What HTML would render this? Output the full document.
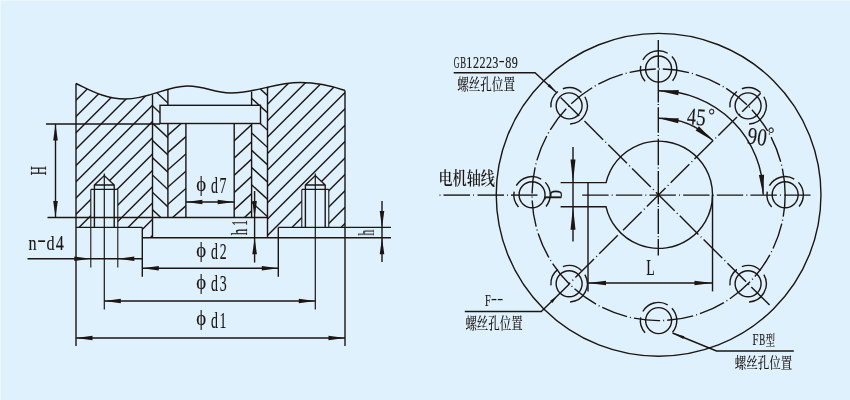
<!DOCTYPE html>
<html lang="zh">
<head>
<meta charset="utf-8">
<title>安装尺寸图</title>
<style>
html,body{margin:0;padding:0;background:#dff1fc;}
body{width:850px;height:400px;overflow:hidden;font-family:"Liberation Serif","Noto Serif CJK SC",serif;}
svg{display:block;}
</style>
</head>
<body>
<svg width="850" height="400" viewBox="0 0 850 400">
<rect x="0" y="0" width="850" height="400" fill="#dff1fc"/>
<rect x="0" y="0" width="850" height="1" fill="#ecf7fd"/>
<rect x="0" y="0" width="1" height="400" fill="#ecf7fd"/>
<defs>
<clipPath id="cwave"><path d="M76,83.5 C 90,90 105,99 125,99 C 150,99 166,86 187.5,86 C 207,86 212,93 231,93 C 255,93 275,82.5 300,82.5 C 318,82.5 335,87 345,90.5 L345,260 L76,260 Z"/></clipPath>
<clipPath id="cLB" clip-path="url(#cwave)"><path clip-rule="evenodd" d="M76,60 L152.5,60 L152.5,237.8 L142.3,237.8 L142.3,227.4 L76,227.4 Z M90.8,227.9 L90.8,189.4 L94.39999999999999,189.4 L94.39999999999999,185 L104.3,176.5 L114.2,185 L114.2,189.4 L117.8,189.4 L117.8,227.9 Z"/></clipPath>
<clipPath id="cRB" clip-path="url(#cwave)"><path clip-rule="evenodd" d="M267.5,60 L345,60 L345,227.4 L278.3,227.4 L278.3,237.8 L267.5,237.8 Z M301.8,227.9 L301.8,189.4 L305.40000000000003,189.4 L305.40000000000003,185 L315.3,176.5 L325.2,185 L325.2,189.4 L328.8,189.4 L328.8,227.9 Z"/></clipPath>
<clipPath id="cSOL" clip-path="url(#cwave)"><path clip-rule="evenodd" d="M152.5,60 L167.9,60 L167.9,217.5 L152.5,217.5 Z M160,105.3 L167.9,105.3 L167.9,123.5 L160,123.5 Z"/></clipPath>
<clipPath id="cSIL"><rect x="167.9" y="123.5" width="18.0" height="94.0"/></clipPath>
<clipPath id="cSIR"><rect x="234.2" y="123.5" width="17.400000000000006" height="94.0"/></clipPath>
<clipPath id="cSOR" clip-path="url(#cwave)"><path clip-rule="evenodd" d="M251.6,60 L267.5,60 L267.5,217.5 L251.6,217.5 Z M251.6,105.3 L260.5,105.3 L260.5,123.5 L251.6,123.5 Z"/></clipPath>
</defs>
<g stroke="#1c1512" fill="none" stroke-linecap="butt">
<g clip-path="url(#cLB)">
<line x1="-189.00" y1="300.00" x2="61.00" y2="50.00" stroke-width="1.4" />
<line x1="-172.70" y1="300.00" x2="77.30" y2="50.00" stroke-width="1.4" />
<line x1="-156.40" y1="300.00" x2="93.60" y2="50.00" stroke-width="1.4" />
<line x1="-140.10" y1="300.00" x2="109.90" y2="50.00" stroke-width="1.4" />
<line x1="-123.80" y1="300.00" x2="126.20" y2="50.00" stroke-width="1.4" />
<line x1="-107.50" y1="300.00" x2="142.50" y2="50.00" stroke-width="1.4" />
<line x1="-91.20" y1="300.00" x2="158.80" y2="50.00" stroke-width="1.4" />
<line x1="-74.90" y1="300.00" x2="175.10" y2="50.00" stroke-width="1.4" />
<line x1="-58.60" y1="300.00" x2="191.40" y2="50.00" stroke-width="1.4" />
<line x1="-42.30" y1="300.00" x2="207.70" y2="50.00" stroke-width="1.4" />
<line x1="-26.00" y1="300.00" x2="224.00" y2="50.00" stroke-width="1.4" />
<line x1="-9.70" y1="300.00" x2="240.30" y2="50.00" stroke-width="1.4" />
<line x1="6.60" y1="300.00" x2="256.60" y2="50.00" stroke-width="1.4" />
<line x1="22.90" y1="300.00" x2="272.90" y2="50.00" stroke-width="1.4" />
<line x1="39.20" y1="300.00" x2="289.20" y2="50.00" stroke-width="1.4" />
<line x1="55.50" y1="300.00" x2="305.50" y2="50.00" stroke-width="1.4" />
<line x1="71.80" y1="300.00" x2="321.80" y2="50.00" stroke-width="1.4" />
<line x1="88.10" y1="300.00" x2="338.10" y2="50.00" stroke-width="1.4" />
<line x1="104.40" y1="300.00" x2="354.40" y2="50.00" stroke-width="1.4" />
</g>
<g clip-path="url(#cRB)">
<line x1="6.20" y1="300.00" x2="256.20" y2="50.00" stroke-width="1.4" />
<line x1="22.60" y1="300.00" x2="272.60" y2="50.00" stroke-width="1.4" />
<line x1="39.00" y1="300.00" x2="289.00" y2="50.00" stroke-width="1.4" />
<line x1="55.40" y1="300.00" x2="305.40" y2="50.00" stroke-width="1.4" />
<line x1="71.80" y1="300.00" x2="321.80" y2="50.00" stroke-width="1.4" />
<line x1="88.20" y1="300.00" x2="338.20" y2="50.00" stroke-width="1.4" />
<line x1="104.60" y1="300.00" x2="354.60" y2="50.00" stroke-width="1.4" />
<line x1="121.00" y1="300.00" x2="371.00" y2="50.00" stroke-width="1.4" />
<line x1="137.40" y1="300.00" x2="387.40" y2="50.00" stroke-width="1.4" />
<line x1="153.80" y1="300.00" x2="403.80" y2="50.00" stroke-width="1.4" />
<line x1="170.20" y1="300.00" x2="420.20" y2="50.00" stroke-width="1.4" />
<line x1="186.60" y1="300.00" x2="436.60" y2="50.00" stroke-width="1.4" />
<line x1="203.00" y1="300.00" x2="453.00" y2="50.00" stroke-width="1.4" />
<line x1="219.40" y1="300.00" x2="469.40" y2="50.00" stroke-width="1.4" />
<line x1="235.80" y1="300.00" x2="485.80" y2="50.00" stroke-width="1.4" />
<line x1="252.20" y1="300.00" x2="502.20" y2="50.00" stroke-width="1.4" />
<line x1="268.60" y1="300.00" x2="518.60" y2="50.00" stroke-width="1.4" />
<line x1="285.00" y1="300.00" x2="535.00" y2="50.00" stroke-width="1.4" />
<line x1="301.40" y1="300.00" x2="551.40" y2="50.00" stroke-width="1.4" />
<line x1="317.80" y1="300.00" x2="567.80" y2="50.00" stroke-width="1.4" />
</g>
<g clip-path="url(#cSOL)">
<line x1="107.75" y1="-126.50" x2="227.75" y2="-13.70" stroke-width="1.4" />
<line x1="107.75" y1="-109.20" x2="227.75" y2="3.60" stroke-width="1.4" />
<line x1="107.75" y1="-91.90" x2="227.75" y2="20.90" stroke-width="1.4" />
<line x1="107.75" y1="-74.60" x2="227.75" y2="38.20" stroke-width="1.4" />
<line x1="107.75" y1="-57.30" x2="227.75" y2="55.50" stroke-width="1.4" />
<line x1="107.75" y1="-40.00" x2="227.75" y2="72.80" stroke-width="1.4" />
<line x1="107.75" y1="-22.70" x2="227.75" y2="90.10" stroke-width="1.4" />
<line x1="107.75" y1="-5.40" x2="227.75" y2="107.40" stroke-width="1.4" />
<line x1="107.75" y1="11.90" x2="227.75" y2="124.70" stroke-width="1.4" />
<line x1="107.75" y1="29.20" x2="227.75" y2="142.00" stroke-width="1.4" />
<line x1="107.75" y1="46.50" x2="227.75" y2="159.30" stroke-width="1.4" />
<line x1="107.75" y1="63.80" x2="227.75" y2="176.60" stroke-width="1.4" />
<line x1="107.75" y1="81.10" x2="227.75" y2="193.90" stroke-width="1.4" />
<line x1="107.75" y1="98.40" x2="227.75" y2="211.20" stroke-width="1.4" />
<line x1="107.75" y1="115.70" x2="227.75" y2="228.50" stroke-width="1.4" />
<line x1="107.75" y1="133.00" x2="227.75" y2="245.80" stroke-width="1.4" />
<line x1="107.75" y1="150.30" x2="227.75" y2="263.10" stroke-width="1.4" />
<line x1="107.75" y1="167.60" x2="227.75" y2="280.40" stroke-width="1.4" />
<line x1="107.75" y1="184.90" x2="227.75" y2="297.70" stroke-width="1.4" />
<line x1="107.75" y1="202.20" x2="227.75" y2="315.00" stroke-width="1.4" />
<line x1="107.75" y1="219.50" x2="227.75" y2="332.30" stroke-width="1.4" />
<line x1="107.75" y1="236.80" x2="227.75" y2="349.60" stroke-width="1.4" />
<line x1="107.75" y1="254.10" x2="227.75" y2="366.90" stroke-width="1.4" />
<line x1="107.75" y1="271.40" x2="227.75" y2="384.20" stroke-width="1.4" />
<line x1="107.75" y1="288.70" x2="227.75" y2="401.50" stroke-width="1.4" />
</g>
<g clip-path="url(#cSIL)">
<line x1="107.75" y1="-19.50" x2="227.75" y2="-125.10" stroke-width="1.4" />
<line x1="107.75" y1="-2.20" x2="227.75" y2="-107.80" stroke-width="1.4" />
<line x1="107.75" y1="15.10" x2="227.75" y2="-90.50" stroke-width="1.4" />
<line x1="107.75" y1="32.40" x2="227.75" y2="-73.20" stroke-width="1.4" />
<line x1="107.75" y1="49.70" x2="227.75" y2="-55.90" stroke-width="1.4" />
<line x1="107.75" y1="67.00" x2="227.75" y2="-38.60" stroke-width="1.4" />
<line x1="107.75" y1="84.30" x2="227.75" y2="-21.30" stroke-width="1.4" />
<line x1="107.75" y1="101.60" x2="227.75" y2="-4.00" stroke-width="1.4" />
<line x1="107.75" y1="118.90" x2="227.75" y2="13.30" stroke-width="1.4" />
<line x1="107.75" y1="136.20" x2="227.75" y2="30.60" stroke-width="1.4" />
<line x1="107.75" y1="153.50" x2="227.75" y2="47.90" stroke-width="1.4" />
<line x1="107.75" y1="170.80" x2="227.75" y2="65.20" stroke-width="1.4" />
<line x1="107.75" y1="188.10" x2="227.75" y2="82.50" stroke-width="1.4" />
<line x1="107.75" y1="205.40" x2="227.75" y2="99.80" stroke-width="1.4" />
<line x1="107.75" y1="222.70" x2="227.75" y2="117.10" stroke-width="1.4" />
<line x1="107.75" y1="240.00" x2="227.75" y2="134.40" stroke-width="1.4" />
<line x1="107.75" y1="257.30" x2="227.75" y2="151.70" stroke-width="1.4" />
<line x1="107.75" y1="274.60" x2="227.75" y2="169.00" stroke-width="1.4" />
<line x1="107.75" y1="291.90" x2="227.75" y2="186.30" stroke-width="1.4" />
<line x1="107.75" y1="309.20" x2="227.75" y2="203.60" stroke-width="1.4" />
<line x1="107.75" y1="326.50" x2="227.75" y2="220.90" stroke-width="1.4" />
<line x1="107.75" y1="343.80" x2="227.75" y2="238.20" stroke-width="1.4" />
<line x1="107.75" y1="361.10" x2="227.75" y2="255.50" stroke-width="1.4" />
<line x1="107.75" y1="378.40" x2="227.75" y2="272.80" stroke-width="1.4" />
<line x1="107.75" y1="395.70" x2="227.75" y2="290.10" stroke-width="1.4" />
</g>
<g clip-path="url(#cSIR)">
<line x1="191.75" y1="-26.70" x2="311.75" y2="-138.30" stroke-width="1.4" />
<line x1="191.75" y1="-9.45" x2="311.75" y2="-121.05" stroke-width="1.4" />
<line x1="191.75" y1="7.80" x2="311.75" y2="-103.80" stroke-width="1.4" />
<line x1="191.75" y1="25.05" x2="311.75" y2="-86.55" stroke-width="1.4" />
<line x1="191.75" y1="42.30" x2="311.75" y2="-69.30" stroke-width="1.4" />
<line x1="191.75" y1="59.55" x2="311.75" y2="-52.05" stroke-width="1.4" />
<line x1="191.75" y1="76.80" x2="311.75" y2="-34.80" stroke-width="1.4" />
<line x1="191.75" y1="94.05" x2="311.75" y2="-17.55" stroke-width="1.4" />
<line x1="191.75" y1="111.30" x2="311.75" y2="-0.30" stroke-width="1.4" />
<line x1="191.75" y1="128.55" x2="311.75" y2="16.95" stroke-width="1.4" />
<line x1="191.75" y1="145.80" x2="311.75" y2="34.20" stroke-width="1.4" />
<line x1="191.75" y1="163.05" x2="311.75" y2="51.45" stroke-width="1.4" />
<line x1="191.75" y1="180.30" x2="311.75" y2="68.70" stroke-width="1.4" />
<line x1="191.75" y1="197.55" x2="311.75" y2="85.95" stroke-width="1.4" />
<line x1="191.75" y1="214.80" x2="311.75" y2="103.20" stroke-width="1.4" />
<line x1="191.75" y1="232.05" x2="311.75" y2="120.45" stroke-width="1.4" />
<line x1="191.75" y1="249.30" x2="311.75" y2="137.70" stroke-width="1.4" />
<line x1="191.75" y1="266.55" x2="311.75" y2="154.95" stroke-width="1.4" />
<line x1="191.75" y1="283.80" x2="311.75" y2="172.20" stroke-width="1.4" />
<line x1="191.75" y1="301.05" x2="311.75" y2="189.45" stroke-width="1.4" />
<line x1="191.75" y1="318.30" x2="311.75" y2="206.70" stroke-width="1.4" />
<line x1="191.75" y1="335.55" x2="311.75" y2="223.95" stroke-width="1.4" />
<line x1="191.75" y1="352.80" x2="311.75" y2="241.20" stroke-width="1.4" />
<line x1="191.75" y1="370.05" x2="311.75" y2="258.45" stroke-width="1.4" />
<line x1="191.75" y1="387.30" x2="311.75" y2="275.70" stroke-width="1.4" />
</g>
<g clip-path="url(#cSOR)">
<line x1="191.75" y1="-129.10" x2="311.75" y2="-19.90" stroke-width="1.4" />
<line x1="191.75" y1="-111.80" x2="311.75" y2="-2.60" stroke-width="1.4" />
<line x1="191.75" y1="-94.50" x2="311.75" y2="14.70" stroke-width="1.4" />
<line x1="191.75" y1="-77.20" x2="311.75" y2="32.00" stroke-width="1.4" />
<line x1="191.75" y1="-59.90" x2="311.75" y2="49.30" stroke-width="1.4" />
<line x1="191.75" y1="-42.60" x2="311.75" y2="66.60" stroke-width="1.4" />
<line x1="191.75" y1="-25.30" x2="311.75" y2="83.90" stroke-width="1.4" />
<line x1="191.75" y1="-8.00" x2="311.75" y2="101.20" stroke-width="1.4" />
<line x1="191.75" y1="9.30" x2="311.75" y2="118.50" stroke-width="1.4" />
<line x1="191.75" y1="26.60" x2="311.75" y2="135.80" stroke-width="1.4" />
<line x1="191.75" y1="43.90" x2="311.75" y2="153.10" stroke-width="1.4" />
<line x1="191.75" y1="61.20" x2="311.75" y2="170.40" stroke-width="1.4" />
<line x1="191.75" y1="78.50" x2="311.75" y2="187.70" stroke-width="1.4" />
<line x1="191.75" y1="95.80" x2="311.75" y2="205.00" stroke-width="1.4" />
<line x1="191.75" y1="113.10" x2="311.75" y2="222.30" stroke-width="1.4" />
<line x1="191.75" y1="130.40" x2="311.75" y2="239.60" stroke-width="1.4" />
<line x1="191.75" y1="147.70" x2="311.75" y2="256.90" stroke-width="1.4" />
<line x1="191.75" y1="165.00" x2="311.75" y2="274.20" stroke-width="1.4" />
<line x1="191.75" y1="182.30" x2="311.75" y2="291.50" stroke-width="1.4" />
<line x1="191.75" y1="199.60" x2="311.75" y2="308.80" stroke-width="1.4" />
<line x1="191.75" y1="216.90" x2="311.75" y2="326.10" stroke-width="1.4" />
<line x1="191.75" y1="234.20" x2="311.75" y2="343.40" stroke-width="1.4" />
<line x1="191.75" y1="251.50" x2="311.75" y2="360.70" stroke-width="1.4" />
<line x1="191.75" y1="268.80" x2="311.75" y2="378.00" stroke-width="1.4" />
<line x1="191.75" y1="286.10" x2="311.75" y2="395.30" stroke-width="1.4" />
</g>
<path d="M76,83.5 C 90,90 105,99 125,99 C 150,99 166,86 187.5,86 C 207,86 212,93 231,93 C 255,93 275,82.5 300,82.5 C 318,82.5 335,87 345,90.5" stroke-width="1.4"/>
<line x1="76.00" y1="83.50" x2="76.00" y2="346.00" stroke-width="1.4" />
<line x1="345.00" y1="90.50" x2="345.00" y2="346.00" stroke-width="1.4" />
<line x1="152.50" y1="94.70" x2="152.50" y2="237.80" stroke-width="1.4" />
<line x1="267.50" y1="86.80" x2="267.50" y2="237.80" stroke-width="1.4" />
<line x1="167.90" y1="89.80" x2="167.90" y2="105.30" stroke-width="1.4" />
<line x1="167.90" y1="123.50" x2="167.90" y2="217.50" stroke-width="1.4" />
<line x1="251.60" y1="91.50" x2="251.60" y2="105.30" stroke-width="1.4" />
<line x1="251.60" y1="123.50" x2="251.60" y2="217.50" stroke-width="1.4" />
<line x1="185.90" y1="123.50" x2="185.90" y2="217.50" stroke-width="1.4" />
<line x1="234.20" y1="123.50" x2="234.20" y2="217.50" stroke-width="1.4" />
<rect x="160" y="105.3" width="100.5" height="18.200000000000003" stroke-width="1.4"/>
<line x1="46.00" y1="124.00" x2="160.00" y2="124.00" stroke-width="1.4" />
<line x1="47.50" y1="217.50" x2="267.50" y2="217.50" stroke-width="1.4" />
<line x1="76.00" y1="227.40" x2="142.30" y2="227.40" stroke-width="1.4" />
<line x1="278.30" y1="227.40" x2="391.00" y2="227.40" stroke-width="1.4" />
<line x1="142.30" y1="237.80" x2="391.00" y2="237.80" stroke-width="1.4" />
<line x1="142.30" y1="227.40" x2="142.30" y2="276.80" stroke-width="1.4" />
<line x1="278.30" y1="227.40" x2="278.30" y2="276.80" stroke-width="1.4" />
<path d="M94.39999999999999,227.4 L94.39999999999999,185 L104.3,175.6 L114.2,185 L114.2,227.4 M94.39999999999999,185 L114.2,185 M90.8,189.4 L117.8,189.4" stroke-width="1.4"/>
<line x1="90.80" y1="189.40" x2="90.80" y2="267.50" stroke-width="1.1" />
<line x1="117.80" y1="189.40" x2="117.80" y2="267.50" stroke-width="1.1" />
<line x1="104.30" y1="173.50" x2="104.30" y2="309.50" stroke-width="1.2" />
<path d="M305.40000000000003,227.4 L305.40000000000003,185 L315.3,175.6 L325.2,185 L325.2,227.4 M305.40000000000003,185 L325.2,185 M301.8,189.4 L328.8,189.4" stroke-width="1.4"/>
<line x1="301.80" y1="189.40" x2="301.80" y2="227.40" stroke-width="1.1" />
<line x1="328.80" y1="189.40" x2="328.80" y2="227.40" stroke-width="1.1" />
<line x1="315.30" y1="173.50" x2="315.30" y2="309.50" stroke-width="1.2" />
<line x1="55.50" y1="124.00" x2="55.50" y2="217.50" stroke-width="1.4" />
<polygon points="55.50,124.00 57.80,140.50 53.20,140.50" fill="#1c1512" stroke="none"/>
<polygon points="55.50,217.50 53.20,201.00 57.80,201.00" fill="#1c1512" stroke="none"/>
<line x1="185.90" y1="202.00" x2="234.20" y2="202.00" stroke-width="1.4" />
<polygon points="185.90,202.00 202.40,199.70 202.40,204.30" fill="#1c1512" stroke="none"/>
<polygon points="234.20,202.00 217.70,204.30 217.70,199.70" fill="#1c1512" stroke="none"/>
<line x1="254.60" y1="191.00" x2="254.60" y2="262.50" stroke-width="1.4" />
<polygon points="254.60,217.50 252.30,201.00 256.90,201.00" fill="#1c1512" stroke="none"/>
<polygon points="254.60,237.80 256.90,254.30 252.30,254.30" fill="#1c1512" stroke="none"/>
<line x1="382.00" y1="201.00" x2="382.00" y2="262.00" stroke-width="1.4" />
<polygon points="382.00,227.40 379.70,210.90 384.30,210.90" fill="#1c1512" stroke="none"/>
<polygon points="382.00,237.80 384.30,254.30 379.70,254.30" fill="#1c1512" stroke="none"/>
<line x1="27.50" y1="258.80" x2="142.30" y2="258.80" stroke-width="1.4" />
<polygon points="90.80,258.80 74.30,261.10 74.30,256.50" fill="#1c1512" stroke="none"/>
<polygon points="117.80,258.80 134.30,256.50 134.30,261.10" fill="#1c1512" stroke="none"/>
<line x1="142.30" y1="268.20" x2="278.30" y2="268.20" stroke-width="1.4" />
<polygon points="142.30,268.20 158.80,265.90 158.80,270.50" fill="#1c1512" stroke="none"/>
<polygon points="278.30,268.20 261.80,270.50 261.80,265.90" fill="#1c1512" stroke="none"/>
<line x1="104.30" y1="301.00" x2="315.30" y2="301.00" stroke-width="1.4" />
<polygon points="104.30,301.00 120.80,298.70 120.80,303.30" fill="#1c1512" stroke="none"/>
<polygon points="315.30,301.00 298.80,303.30 298.80,298.70" fill="#1c1512" stroke="none"/>
<line x1="76.00" y1="338.00" x2="345.00" y2="338.00" stroke-width="1.4" />
<polygon points="76.00,338.00 92.50,335.70 92.50,340.30" fill="#1c1512" stroke="none"/>
<polygon points="345.00,338.00 328.50,340.30 328.50,335.70" fill="#1c1512" stroke="none"/>
<ellipse cx="658.6" cy="194.8" rx="162.37" ry="161.4" stroke-width="1.4"/>
<path d="M785.15,194.8 A126.55,125.8 0 1 0 532.05,194.8 A126.55,125.8 0 1 0 785.15,194.8" stroke-width="1.4" stroke-dasharray="26.4 3.05 1 3.05"/>
<path d="M560.6,182.6 L606.09,182.6 A53.92,53.6 0 1 1 606.05,206.8 L560.6,206.8" stroke-width="1.4"/>
<line x1="588.00" y1="182.60" x2="588.00" y2="291.40" stroke-width="1.4" />
<line x1="712.52" y1="194.80" x2="712.52" y2="291.40" stroke-width="1.4" />
<line x1="658.30" y1="40.00" x2="658.30" y2="67.80" stroke-width="1.4" />
<line x1="658.30" y1="70.30" x2="658.30" y2="102.50" stroke-width="1.4" />
<line x1="658.30" y1="107.20" x2="658.30" y2="132.70" stroke-width="1.4" />
<line x1="658.30" y1="138.70" x2="658.30" y2="165.30" stroke-width="1.4" />
<line x1="658.30" y1="171.00" x2="658.30" y2="204.30" stroke-width="1.4" />
<line x1="658.30" y1="208.80" x2="658.30" y2="234.00" stroke-width="1.4" />
<line x1="658.30" y1="239.00" x2="658.30" y2="255.40" stroke-width="1.4" />
<line x1="658.30" y1="103.90" x2="658.30" y2="104.90" stroke-width="1.4" />
<line x1="658.30" y1="135.10" x2="658.30" y2="136.10" stroke-width="1.4" />
<line x1="658.30" y1="167.50" x2="658.30" y2="168.50" stroke-width="1.4" />
<line x1="658.30" y1="206.10" x2="658.30" y2="207.10" stroke-width="1.4" />
<line x1="658.30" y1="236.30" x2="658.30" y2="237.30" stroke-width="1.4" />
<line x1="443.50" y1="195.10" x2="470.00" y2="195.10" stroke-width="1.4" />
<line x1="477.50" y1="195.10" x2="504.00" y2="195.10" stroke-width="1.4" />
<line x1="511.00" y1="195.10" x2="537.50" y2="195.10" stroke-width="1.4" />
<line x1="439.50" y1="195.10" x2="440.50" y2="195.10" stroke-width="1.4" />
<line x1="473.00" y1="195.10" x2="474.00" y2="195.10" stroke-width="1.4" />
<line x1="507.00" y1="195.10" x2="508.00" y2="195.10" stroke-width="1.4" />
<line x1="582.20" y1="195.10" x2="810.50" y2="195.10" stroke-width="1.4" stroke-dasharray="26.4 3.1 1 3.15"/>
<line x1="568.97" y1="283.90" x2="570.18" y2="282.69" stroke-width="1.4" />
<line x1="572.42" y1="280.47" x2="573.13" y2="279.76" stroke-width="1.4" />
<line x1="575.37" y1="277.53" x2="594.01" y2="259.01" stroke-width="1.4" />
<line x1="596.25" y1="256.78" x2="596.96" y2="256.07" stroke-width="1.4" />
<line x1="599.20" y1="253.84" x2="617.84" y2="235.32" stroke-width="1.4" />
<line x1="620.08" y1="233.09" x2="620.79" y2="232.38" stroke-width="1.4" />
<line x1="623.03" y1="230.16" x2="641.67" y2="211.63" stroke-width="1.4" />
<line x1="643.91" y1="209.40" x2="644.62" y2="208.69" stroke-width="1.4" />
<line x1="646.86" y1="206.47" x2="665.50" y2="187.94" stroke-width="1.4" />
<line x1="667.74" y1="185.71" x2="668.45" y2="185.01" stroke-width="1.4" />
<line x1="670.69" y1="182.78" x2="689.33" y2="164.25" stroke-width="1.4" />
<line x1="691.57" y1="162.03" x2="692.28" y2="161.32" stroke-width="1.4" />
<line x1="694.52" y1="159.09" x2="713.16" y2="140.56" stroke-width="1.4" />
<line x1="715.40" y1="138.34" x2="716.11" y2="137.63" stroke-width="1.4" />
<line x1="718.35" y1="135.40" x2="736.99" y2="116.88" stroke-width="1.4" />
<line x1="739.23" y1="114.65" x2="739.94" y2="113.94" stroke-width="1.4" />
<line x1="742.18" y1="111.71" x2="760.68" y2="93.33" stroke-width="1.4" />
<line x1="769.57" y1="305.11" x2="751.29" y2="286.94" stroke-width="1.4" />
<line x1="749.05" y1="284.71" x2="748.34" y2="284.00" stroke-width="1.4" />
<line x1="746.10" y1="281.77" x2="727.46" y2="263.25" stroke-width="1.4" />
<line x1="725.22" y1="261.02" x2="724.51" y2="260.31" stroke-width="1.4" />
<line x1="722.27" y1="258.09" x2="703.63" y2="239.56" stroke-width="1.4" />
<line x1="701.39" y1="237.33" x2="700.68" y2="236.63" stroke-width="1.4" />
<line x1="698.44" y1="234.40" x2="679.80" y2="215.87" stroke-width="1.4" />
<line x1="677.56" y1="213.64" x2="676.85" y2="212.94" stroke-width="1.4" />
<line x1="674.61" y1="210.71" x2="655.97" y2="192.18" stroke-width="1.4" />
<line x1="653.73" y1="189.96" x2="653.02" y2="189.25" stroke-width="1.4" />
<line x1="650.78" y1="187.02" x2="632.14" y2="168.50" stroke-width="1.4" />
<line x1="629.90" y1="166.27" x2="629.19" y2="165.56" stroke-width="1.4" />
<line x1="626.94" y1="163.33" x2="608.31" y2="144.81" stroke-width="1.4" />
<line x1="606.07" y1="142.58" x2="605.36" y2="141.87" stroke-width="1.4" />
<line x1="603.11" y1="139.65" x2="584.48" y2="121.12" stroke-width="1.4" />
<line x1="582.24" y1="118.89" x2="581.53" y2="118.18" stroke-width="1.4" />
<line x1="579.28" y1="115.96" x2="560.65" y2="97.43" stroke-width="1.4" />
<circle cx="785.15" cy="194.80" r="13" stroke-width="1.4"/>
<path d="M767.23,191.64 A18.2,18.2 0 0 0 771.63,206.98" stroke-width="1.4"/>
<path d="M794.25,179.04 A18.2,18.2 0 0 0 769.39,185.70" stroke-width="1.4"/>
<path d="M799.10,206.50 A18.2,18.2 0 0 0 798.47,182.39" stroke-width="1.4"/>
<circle cx="748.09" cy="105.85" r="13" stroke-width="1.4"/>
<path d="M736.88,91.50 A18.2,18.2 0 0 0 729.96,107.43" stroke-width="1.4"/>
<path d="M760.50,92.54 A18.2,18.2 0 0 0 741.86,88.74" stroke-width="1.4"/>
<path d="M749.04,124.02 A18.2,18.2 0 0 0 763.85,96.75" stroke-width="1.4"/>
<circle cx="658.60" cy="69.00" r="13" stroke-width="1.4"/>
<path d="M640.68,65.84 A18.2,18.2 0 0 0 645.07,81.18" stroke-width="1.4"/>
<path d="M667.70,53.24 A18.2,18.2 0 0 0 642.84,59.90" stroke-width="1.4"/>
<path d="M672.54,80.70 A18.2,18.2 0 0 0 671.91,56.59" stroke-width="1.4"/>
<circle cx="569.11" cy="105.85" r="13" stroke-width="1.4"/>
<path d="M557.91,91.50 A18.2,18.2 0 0 0 550.98,107.43" stroke-width="1.4"/>
<path d="M581.52,92.54 A18.2,18.2 0 0 0 562.89,88.74" stroke-width="1.4"/>
<path d="M570.06,124.02 A18.2,18.2 0 0 0 584.87,96.75" stroke-width="1.4"/>
<circle cx="532.05" cy="194.80" r="13" stroke-width="1.4"/>
<path d="M514.12,191.64 A18.2,18.2 0 0 0 518.52,206.98" stroke-width="1.4"/>
<path d="M541.15,179.04 A18.2,18.2 0 0 0 516.28,185.70" stroke-width="1.4"/>
<path d="M545.99,206.50 A18.2,18.2 0 0 0 545.36,182.39" stroke-width="1.4"/>
<circle cx="569.11" cy="283.75" r="13" stroke-width="1.4"/>
<path d="M557.91,269.41 A18.2,18.2 0 0 0 550.98,285.34" stroke-width="1.4"/>
<path d="M581.52,270.44 A18.2,18.2 0 0 0 562.89,266.65" stroke-width="1.4"/>
<path d="M570.06,301.93 A18.2,18.2 0 0 0 584.87,274.65" stroke-width="1.4"/>
<circle cx="658.60" cy="320.60" r="13" stroke-width="1.4"/>
<path d="M640.68,317.44 A18.2,18.2 0 0 0 645.07,332.78" stroke-width="1.4"/>
<path d="M667.70,304.84 A18.2,18.2 0 0 0 642.84,311.50" stroke-width="1.4"/>
<path d="M672.54,332.30 A18.2,18.2 0 0 0 671.91,308.19" stroke-width="1.4"/>
<circle cx="748.09" cy="283.75" r="13" stroke-width="1.4"/>
<path d="M736.88,269.41 A18.2,18.2 0 0 0 729.96,285.34" stroke-width="1.4"/>
<path d="M760.50,270.44 A18.2,18.2 0 0 0 741.86,266.65" stroke-width="1.4"/>
<path d="M749.04,301.93 A18.2,18.2 0 0 0 763.85,274.65" stroke-width="1.4"/>
<path d="M658.60,90.80 A104.62,104 0 0 1 763.22,194.80" stroke-width="1.4"/>
<path d="M658.60,118.30 A76.96,76.5 0 0 1 713.02,140.71" stroke-width="1.4"/>
<polygon points="658.60,90.80 678.75,89.95 678.30,95.13" fill="#1c1512" stroke="none"/>
<polygon points="763.22,194.80 758.89,175.10 764.07,174.65" fill="#1c1512" stroke="none"/>
<polygon points="658.60,118.30 678.77,118.16 678.13,123.32" fill="#1c1512" stroke="none"/>
<polygon points="713.02,140.71 695.66,130.44 698.86,126.34" fill="#1c1512" stroke="none"/>
<line x1="573.00" y1="147.00" x2="573.00" y2="241.60" stroke-width="1.4" />
<polygon points="573.00,182.60 570.50,159.60 575.50,159.60" fill="#1c1512" stroke="none"/>
<polygon points="573.00,206.80 575.50,229.80 570.50,229.80" fill="#1c1512" stroke="none"/>
<line x1="588.00" y1="283.00" x2="712.52" y2="283.00" stroke-width="1.4" />
<polygon points="588.00,283.00 606.00,280.75 606.00,285.25" fill="#1c1512" stroke="none"/>
<polygon points="712.52,283.00 694.52,285.25 694.52,280.75" fill="#1c1512" stroke="none"/>
<path d="M453.7,72.8 L535,72.8 L556.5,92.5" stroke-width="1.4"/>
<polygon points="556.30,92.30 547.55,86.31 549.57,84.10" fill="#1c1512" stroke="none"/>
<path d="M464.8,311.5 L541.3,311.5 L569.4,283.9" stroke-width="1.4"/>
<polygon points="557.00,296.30 552.42,303.05 550.17,300.77" fill="#1c1512" stroke="none"/>
<path d="M793.8,351 L716.5,351 L672.5,333" stroke-width="1.4"/>
<polygon points="672.70,333.10 684.38,336.25 683.24,339.02" fill="#1c1512" stroke="none"/>
</g>
<g fill="#1c1512" stroke="#1c1512" stroke-width="0.15" stroke-linejoin="round" opacity="0.999">
<text style="font-family:'Liberation Serif', serif"><tspan x="453.72" y="67.50" font-size="17.4" textLength="5.73" lengthAdjust="spacingAndGlyphs">G</tspan><tspan x="460.26" y="67.50" font-size="17.4" textLength="5.84" lengthAdjust="spacingAndGlyphs">B</tspan><tspan x="466.34" y="67.50" font-size="17.4" textLength="6.09" lengthAdjust="spacingAndGlyphs">1</tspan><tspan x="473.03" y="67.50" font-size="17.4" textLength="6.09" lengthAdjust="spacingAndGlyphs">2</tspan><tspan x="479.49" y="67.50" font-size="17.4" textLength="6.09" lengthAdjust="spacingAndGlyphs">2</tspan><tspan x="485.95" y="67.50" font-size="17.4" textLength="6.09" lengthAdjust="spacingAndGlyphs">2</tspan><tspan x="492.29" y="67.50" font-size="17.4" textLength="6.09" lengthAdjust="spacingAndGlyphs">3</tspan><tspan x="498.89" y="65.90" font-size="17.4" textLength="5.90" lengthAdjust="spacingAndGlyphs">-</tspan><tspan x="505.27" y="67.50" font-size="17.4" textLength="6.09" lengthAdjust="spacingAndGlyphs">8</tspan><tspan x="511.80" y="67.50" font-size="17.4" textLength="6.04" lengthAdjust="spacingAndGlyphs">9</tspan></text>
<text style="font-family:'Liberation Serif', serif"><tspan x="457.2" y="90.0" font-size="15.5" font-weight="500" stroke="none" style="font-family:'Liberation Serif', 'Noto Serif CJK SC', serif" textLength="57.8" lengthAdjust="spacingAndGlyphs">螺丝孔位置</tspan></text>
<text style="font-family:'Liberation Serif', serif"><tspan x="438.5" y="184.6" font-size="18" font-weight="600" stroke="none" style="font-family:'Liberation Serif', 'Noto Serif CJK SC', serif" textLength="56.5" lengthAdjust="spacingAndGlyphs">电机轴线</tspan></text>
<text style="font-family:'Liberation Serif', serif"><tspan x="484.96" y="306.00" font-size="17" textLength="5.66" lengthAdjust="spacingAndGlyphs">F</tspan><tspan x="491.09" y="304.40" font-size="17" textLength="5.90" lengthAdjust="spacingAndGlyphs">-</tspan><tspan x="497.39" y="304.40" font-size="17" textLength="5.90" lengthAdjust="spacingAndGlyphs">-</tspan></text>
<text style="font-family:'Liberation Serif', serif"><tspan x="465.4" y="328.6" font-size="15.5" font-weight="500" stroke="none" style="font-family:'Liberation Serif', 'Noto Serif CJK SC', serif" textLength="57.4" lengthAdjust="spacingAndGlyphs">螺丝孔位置</tspan></text>
<text style="font-family:'Liberation Serif', serif"><tspan x="752.54" y="345.30" font-size="16.2" textLength="6.00" lengthAdjust="spacingAndGlyphs">F</tspan><tspan x="759.19" y="345.30" font-size="16.2" textLength="6.00" lengthAdjust="spacingAndGlyphs">B</tspan><tspan x="765.6" y="344.6" font-size="13.6" font-weight="500" stroke="none" style="font-family:'Liberation Serif', 'Noto Serif CJK SC', serif" textLength="9.6" lengthAdjust="spacingAndGlyphs">型</tspan></text>
<text style="font-family:'Liberation Serif', serif"><tspan x="734.8" y="368.0" font-size="15" font-weight="500" stroke="none" style="font-family:'Liberation Serif', 'Noto Serif CJK SC', serif" textLength="57.4" lengthAdjust="spacingAndGlyphs">螺丝孔位置</tspan></text>
<text style="font-family:'Liberation Serif', serif" transform="rotate(5 686.6 124)"><tspan x="686.50" y="124.00" font-size="24" textLength="8.93" lengthAdjust="spacingAndGlyphs">4</tspan><tspan x="695.62" y="124.00" font-size="24" textLength="9.60" lengthAdjust="spacingAndGlyphs">5</tspan><tspan x="707.02" y="118.73" font-size="18" textLength="6.73" lengthAdjust="spacingAndGlyphs">°</tspan></text>
<text style="font-family:'Liberation Serif', serif" transform="rotate(8 746.5 143.2)"><tspan x="746.58" y="143.20" font-size="24" textLength="9.60" lengthAdjust="spacingAndGlyphs">9</tspan><tspan x="756.30" y="143.20" font-size="24" textLength="9.60" lengthAdjust="spacingAndGlyphs">0</tspan><tspan x="765.61" y="136.16" font-size="18" textLength="6.73" lengthAdjust="spacingAndGlyphs">°</tspan></text>
<text style="font-family:'Liberation Serif', serif"><tspan x="646.30" y="274.60" font-size="23.8" textLength="8.54" lengthAdjust="spacingAndGlyphs">L</tspan></text>
<text style="font-family:'Liberation Serif', serif" transform="translate(561.5 199.6) rotate(-90)"><tspan x="0.20" y="0.00" font-size="26" textLength="9.74" lengthAdjust="spacingAndGlyphs">b</tspan></text>
<text style="font-family:'Liberation Serif', serif"><tspan x="196.17" y="190.70" font-size="20" textLength="9.88" lengthAdjust="spacingAndGlyphs">ϕ</tspan> <tspan x="211.11" y="193.40" font-size="22.4" textLength="6.94" lengthAdjust="spacingAndGlyphs">d</tspan><tspan x="219.52" y="193.40" font-size="22.4" textLength="6.94" lengthAdjust="spacingAndGlyphs">7</tspan></text>
<text style="font-family:'Liberation Serif', serif"><tspan x="196.17" y="256.60" font-size="20" textLength="9.88" lengthAdjust="spacingAndGlyphs">ϕ</tspan> <tspan x="211.11" y="259.30" font-size="22.4" textLength="6.94" lengthAdjust="spacingAndGlyphs">d</tspan><tspan x="219.86" y="259.30" font-size="22.4" textLength="6.94" lengthAdjust="spacingAndGlyphs">2</tspan></text>
<text style="font-family:'Liberation Serif', serif"><tspan x="196.17" y="288.70" font-size="20" textLength="9.88" lengthAdjust="spacingAndGlyphs">ϕ</tspan> <tspan x="211.11" y="291.40" font-size="22.4" textLength="6.94" lengthAdjust="spacingAndGlyphs">d</tspan><tspan x="219.72" y="291.40" font-size="22.4" textLength="6.94" lengthAdjust="spacingAndGlyphs">3</tspan></text>
<text style="font-family:'Liberation Serif', serif"><tspan x="196.17" y="325.30" font-size="20" textLength="9.88" lengthAdjust="spacingAndGlyphs">ϕ</tspan> <tspan x="211.11" y="328.00" font-size="22.4" textLength="6.94" lengthAdjust="spacingAndGlyphs">d</tspan><tspan x="219.58" y="328.00" font-size="22.4" textLength="6.94" lengthAdjust="spacingAndGlyphs">1</tspan></text>
<text style="font-family:'Liberation Serif', serif"><tspan x="28.60" y="250.00" font-size="21.8" textLength="8.07" lengthAdjust="spacingAndGlyphs">n</tspan><tspan x="37.33" y="246.00" font-size="21.8" textLength="8.72" lengthAdjust="spacingAndGlyphs">-</tspan><tspan x="46.47" y="250.00" font-size="21.8" textLength="8.07" lengthAdjust="spacingAndGlyphs">d</tspan><tspan x="55.64" y="250.00" font-size="21.8" textLength="8.07" lengthAdjust="spacingAndGlyphs">4</tspan></text>
<text style="font-family:'Liberation Serif', serif" transform="translate(46 174.9) rotate(-90)"><tspan x="-0.36" y="0.00" font-size="22.3" textLength="9.03" lengthAdjust="spacingAndGlyphs">H</tspan></text>
<text style="font-family:'Liberation Serif', serif" transform="translate(246.5 235.2) rotate(-90)"><tspan x="-0.13" y="0.00" font-size="23" textLength="6.60" lengthAdjust="spacingAndGlyphs">h</tspan><tspan x="9.40" y="0.00" font-size="23" textLength="5.68" lengthAdjust="spacingAndGlyphs">1</tspan></text>
<text style="font-family:'Liberation Serif', serif" transform="translate(374 235.6) rotate(-90)"><tspan x="-0.12" y="0.00" font-size="23.8" textLength="5.87" lengthAdjust="spacingAndGlyphs">h</tspan></text>
</g>
</svg>
</body>
</html>
